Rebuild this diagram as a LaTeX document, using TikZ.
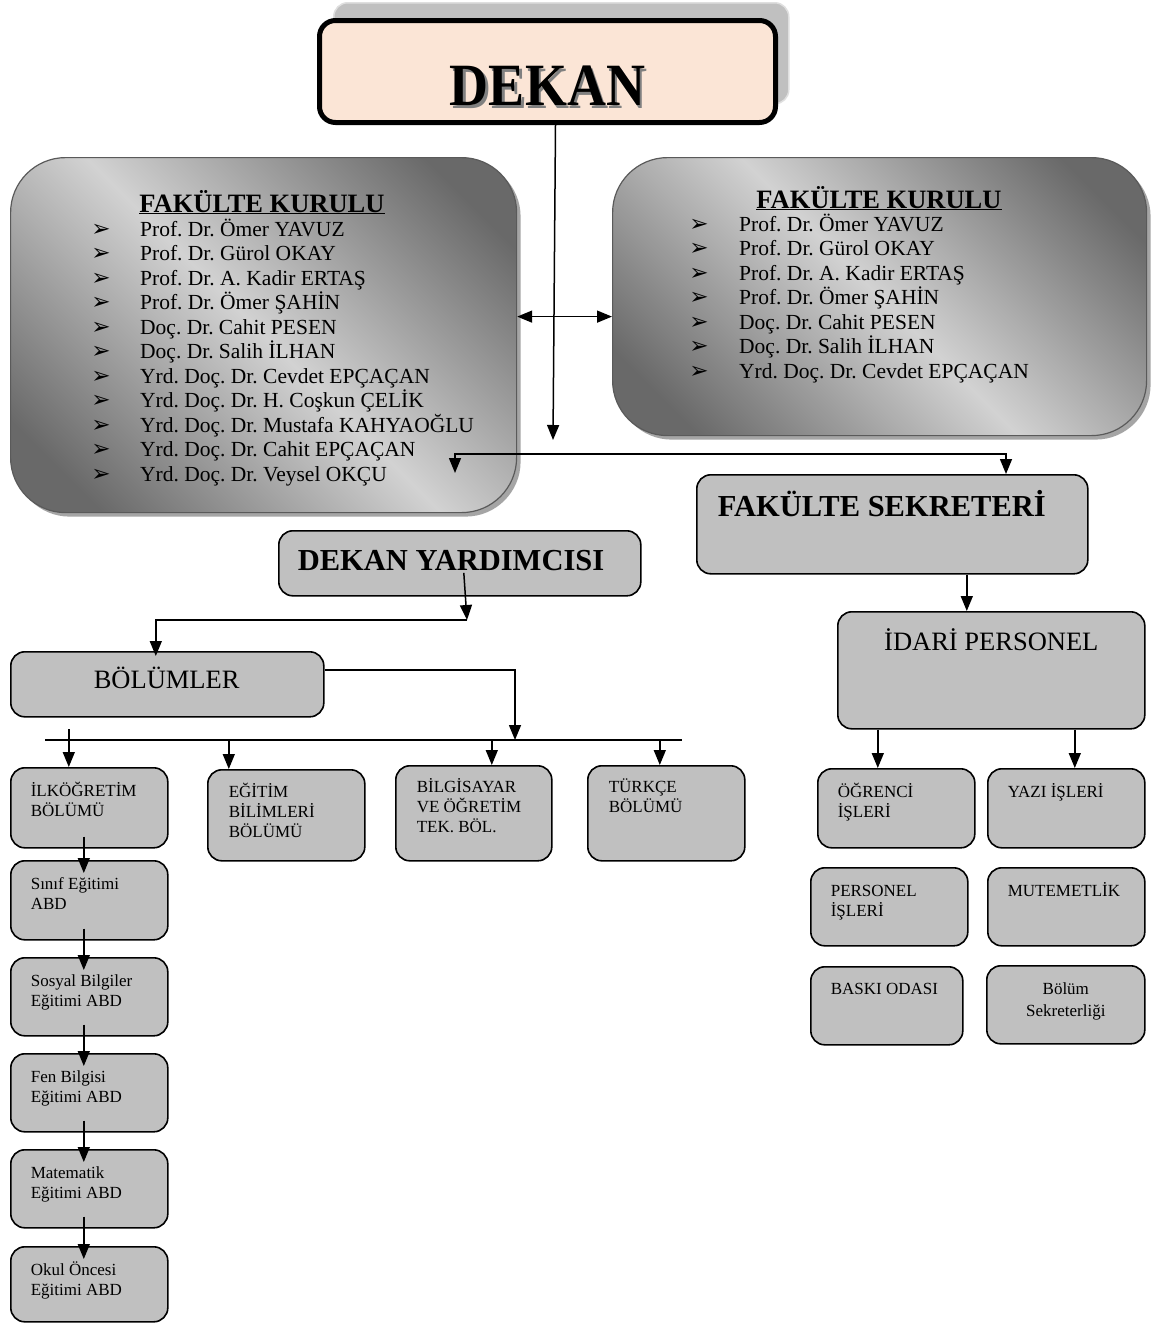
\documentclass[tikz,border=0pt]{standalone}
\usepackage{fontspec}
\setmainfont{Liberation Serif}
\newfontfamily\symfont{DejaVu Sans}
\usepackage{graphicx}
\usepackage{tikz}
\usetikzlibrary{arrows.meta, shadows}
\definecolor{peach}{RGB}{251, 229, 214}
\definecolor{silver}{RGB}{192, 192, 192}
\definecolor{klight}{RGB}{210, 210, 210}
\definecolor{kdark}{RGB}{105, 105, 105}
\definecolor{kedge}{RGB}{90, 90, 90}
\definecolor{kshade}{RGB}{165, 165, 165}

\pgfdeclarehorizontalshading{kurul}{100bp}{color(0bp)=(kdark); color(22bp)=(kdark); color(50bp)=(klight); color(78bp)=(kdark); color(100bp)=(kdark)}

% box text: width, height, first baseline, line skip, indent, text
\newcommand{\inbox}[6]{\vbox to #2pt{\hsize=#1pt\parindent=0pt\parskip=0pt
  \baselineskip=#4pt\lineskiplimit=-100pt
  \vskip\dimexpr#3pt-#4pt\relax\prevdepth=0pt
  \leftskip=#5pt\rightskip=0pt plus 1fil\parfillskip=0pt
  #6\par\vss}}
\newcommand{\nl}{\par}
\newcommand{\shadowtext}[1]{\makebox[0pt][l]{\hspace{3pt}\raisebox{-3pt}{\textcolor{gray}{#1}}}#1}
\frenchspacing

\begin{document}
\begin{tikzpicture}[x=1pt, y=-1pt,
  orgbox/.style={draw, line width=1.6, rounded corners=14, fill=silver, inner sep=0, anchor=north west},
  smallbox/.style={orgbox, font=\fontsize{17}{20}\selectfont},
  bigbox/.style={orgbox, font=\fontsize{30.5}{34}\selectfont\bfseries},
  midbox/.style={orgbox, font=\fontsize{26.5}{30}\selectfont},
  kurulbox/.style={draw=kedge, line width=1.2, rounded corners=55, shading=kurul, shading angle=45,
    drop shadow={shadow xshift=4pt, shadow yshift=-4pt, fill=kshade, opacity=1}, inner sep=0, anchor=north west},
  ktitle/.style={font=\fontsize{26.5}{30}\selectfont\bfseries, anchor=base},
  member/.style={font=\fontsize{21.5}{24}\selectfont, anchor=base west, inner sep=0},
  bul/.style={font=\symfont\fontsize{23}{24}\selectfont, anchor=base, inner sep=0},
  link/.style={line width=1.5, -{Triangle[length=15, width=12]}},
  twoway/.style={line width=1.5, {Triangle[length=15, width=12]}-{Triangle[length=15, width=12]}},
  rail/.style={line width=1.5}]

  \path[use as bounding box, fill=white] (0, 0) rectangle (1151, 1323);

  % dekan
  \node[orgbox, draw=gray!25, line width=1.5, minimum width=455, minimum height=101] (dekanbg) at (333, 2) {};
  \node[orgbox, line width=5, rounded corners=16, fill=peach, font=\fontsize{60}{66}\selectfont\bfseries] (dekan) at (317, 18)
    {\inbox{456}{102}{85}{60}{0}{\hfil\scalebox{0.9}[1]{\shadowtext{DEKAN}}}};

  % kurul
  \node[kurulbox, minimum width=506, minimum height=355] (kurulL) at (10, 157) {};
  \node[kurulbox, minimum width=534, minimum height=278] (kurulR) at (612, 157) {};
  \node[ktitle] (titleL) at (262, 212) {\underline{FAKÜLTE KURULU}};
  \node[ktitle] (titleR) at (879, 208) {\underline{FAKÜLTE KURULU}};

  \foreach [count=\n] \who in {Prof. Dr. Ömer YAVUZ, Prof. Dr. Gürol OKAY, Prof. Dr. A. Kadir ERTAŞ, Prof. Dr. Ömer ŞAHİN, Doç. Dr. Cahit PESEN, Doç. Dr. Salih İLHAN, Yrd. Doç. Dr. Cevdet EPÇAÇAN, Yrd. Doç. Dr. H. Coşkun ÇELİK, Yrd. Doç. Dr. Mustafa KAHYAOĞLU, Yrd. Doç. Dr. Cahit EPÇAÇAN, Yrd. Doç. Dr. Veysel OKÇU} {
    \pgfmathsetmacro{\y}{236 + 24.5 * (\n - 1)}
    \node[bul] (bulL\n) at (101, \y) {➢};
    \node[member] (memL\n) at (140, \y) {\who};
  }

  \foreach [count=\n] \who in {Prof. Dr. Ömer YAVUZ, Prof. Dr. Gürol OKAY, Prof. Dr. A. Kadir ERTAŞ, Prof. Dr. Ömer ŞAHİN, Doç. Dr. Cahit PESEN, Doç. Dr. Salih İLHAN, Yrd. Doç. Dr. Cevdet EPÇAÇAN} {
    \pgfmathsetmacro{\y}{231 + 24.5 * (\n - 1)}
    \node[bul] (bulR\n) at (699, \y) {➢};
    \node[member] (memR\n) at (739, \y) {\who};
  }

  \coordinate (downtip) at (553, 440);
  \draw[link] ([xshift=8]dekan.south) -- (downtip);
  \draw[twoway] ([yshift=18.5]kurulL.east) -- ([yshift=-20]kurulR.west);

  % sekreter side
  \node[bigbox] (sekr) at (696, 474) {\inbox{391}{99}{42}{34}{21}{FAKÜLTE SEKRETERİ}};
  \node[midbox] (idari) at (837, 611) {\inbox{307}{117}{39}{30}{0}{\hfil İDARİ PERSONEL}};

  \coordinate (forkT) at (455, 473);
  \coordinate (forkL) at (455, 454);
  \coordinate (forkR) at (1006, 454);
  \draw[twoway] (forkT) -- (forkL) -- (forkR) -- (forkR |- sekr.north);
  \draw[link] ([xshift=74.5]sekr.south) -- ([xshift=74.5]sekr.south |- idari.north);

  \node[smallbox] (ogr) at (817, 768) {\inbox{157}{79}{29}{20}{20}{ÖĞRENCİ\nl İŞLERİ}};
  \node[smallbox] (yazi) at (987, 768) {\inbox{157}{79}{29}{20}{20}{YAZI İŞLERİ}};
  \node[smallbox] (pers) at (810, 867) {\inbox{157}{78}{29}{20}{20}{PERSONEL\nl İŞLERİ}};
  \node[smallbox] (mutem) at (987, 867) {\inbox{157}{78}{29}{20}{20}{MUTEMETLİK}};
  \node[smallbox] (baski) at (810, 966) {\inbox{152}{78}{28}{20}{20}{BASKI ODASI}};
  \node[smallbox] (bsek) at (986, 965) {\inbox{158}{78}{29}{22}{0}{\hfil Bölüm\nl\hfil Sekreterliği}};

  \draw[link] ([xshift=-18.5]ogr.north |- idari.south) -- ([xshift=-18.5]ogr.north);
  \draw[link] ([xshift=8.5]yazi.north |- idari.south) -- ([xshift=8.5]yazi.north);

  % yardimci side
  \node[bigbox] (yard) at (278, 530) {\inbox{362}{65}{40}{34}{19}{DEKAN YARDIMCISI}};
  \node[midbox] (bol) at (10, 651) {\inbox{313}{65}{37}{30}{83}{BÖLÜMLER}};

  \coordinate (yardfork) at (467, 620);
  \draw[link] ([xshift=4, yshift=-9.5]yard.center) -- (yardfork);
  \draw[link] (yardfork) -| ([xshift=-11.5, yshift=-5]bol.north);

  \coordinate (railL) at (45, 740);
  \coordinate (railR) at (682, 740);
  \coordinate (railB) at (515, 740);
  \draw[rail] (railL) -- (railR);
  \draw[link] ([yshift=14.5]bol.east) -| (railB);

  \node[smallbox] (ilk) at (10, 767) {\inbox{157}{80}{29}{20}{20}{İLKÖĞRETİM\nl BÖLÜMÜ}};
  \node[smallbox] (egit) at (207, 769) {\inbox{157}{91}{28}{20}{21}{EĞİTİM\nl BİLİMLERİ\nl BÖLÜMÜ}};
  \node[smallbox] (bilg) at (395, 765) {\inbox{156}{95}{27}{20}{21}{BİLGİSAYAR\nl VE ÖĞRETİM\nl TEK. BÖL.}};
  \node[smallbox] (turk) at (587, 765) {\inbox{157}{95}{27}{20}{21}{TÜRKÇE\nl BÖLÜMÜ}};

  \draw[link] ([xshift=-20.5, yshift=38]ilk.north) -- ([xshift=-20.5]ilk.north);
  \draw[link] ([xshift=-57.5]egit.north |- railL) -- ([xshift=-57.5]egit.north);
  \draw[link] ([xshift=18]bilg.north |- railL) -- ([xshift=18]bilg.north);
  \draw[link] ([xshift=-6.5]turk.north |- railL) -- ([xshift=-6.5]turk.north);

  \foreach [count=\n] \yy/\hh/\txt in {860/79/{Sınıf Eğitimi\nl ABD}, 957/78/{Sosyal Bilgiler\nl Eğitimi ABD}, 1053/78/{Fen Bilgisi\nl Eğitimi ABD}, 1149/78/{Matematik\nl Eğitimi ABD}, 1246/75/{Okul Öncesi\nl Eğitimi ABD}} {
    \node[smallbox] (abd\n) at (10, \yy) {\inbox{157}{\hh}{29}{20}{20}{\txt}};
  }

  \draw[link] ([xshift=-5.5, yshift=12]ilk.south) -- ([xshift=-5.5, yshift=-13]abd1.north);
  \foreach \p/\n in {1/2, 2/3, 3/4, 4/5} {
    \draw[link] ([xshift=-5.5, yshift=12]abd\p.south) -- ([xshift=-5.5, yshift=-13]abd\n.north);
  }
\end{tikzpicture}
\end{document}
